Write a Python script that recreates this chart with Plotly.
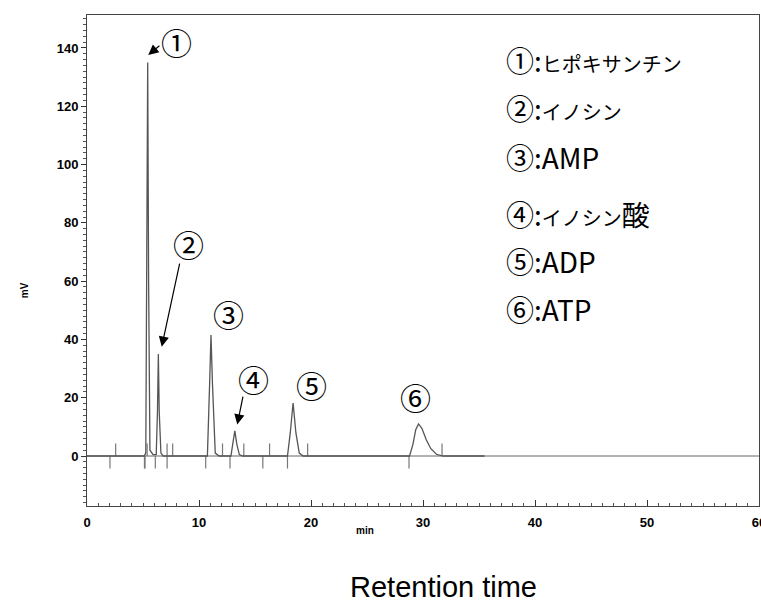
import plotly.graph_objects as go

# ---- data ----
trace_min = [0.0, 5.1, 5.25, 5.35, 5.42, 5.5, 5.62, 5.9, 6.18, 6.29, 6.37, 6.45, 6.6, 6.8,
             10.75, 10.95, 11.07, 11.2, 11.45, 11.8,
             12.85, 13.05, 13.2, 13.38, 13.6, 13.9,
             17.9, 18.15, 18.4, 18.65, 18.95, 19.3,
             28.8, 29.1, 29.35, 29.6, 29.9, 30.3, 30.7, 31.2, 31.8, 35.5]
trace_mv = [0.0, 0.0, 1.0, 60.0, 135.0, 60.0, 2.0, 0.5, 0.5, 15.0, 35.0, 15.0, 1.0, 0.0,
            0.0, 25.0, 41.5, 25.0, 1.0, 0.0,
            0.0, 5.0, 8.6, 4.0, 0.5, 0.0,
            0.0, 8.0, 18.2, 8.0, 1.0, 0.0,
            0.0, 4.0, 9.0, 11.0, 9.5, 5.5, 2.5, 0.6, 0.0, 0.0]

up_marks = [2.56, 5.37, 7.15, 7.65, 12.1, 14.0, 16.3, 19.7, 31.7]
down_marks = [2.05, 5.13, 5.18, 6.1, 7.15, 10.6, 12.77, 15.7, 17.9, 28.75]
mark_height = 4.3

peak_labels = ["①", "②", "③", "④", "⑤", "⑥"]
compound_names = ["ヒポキサンチン", "イノシン", "AMP", "イノシン酸", "ADP", "ATP"]

x_ticks = [0, 10, 20, 30, 40, 50, 60]
y_ticks = [0, 20, 40, 60, 80, 100, 120, 140]

# ---- layout positions ----
label_x = [8.0, 9.05, 12.6, 14.85, 20.06, 29.3]
label_y = [142.1, 73.0, 49.0, 26.6, 24.4, 20.3]
arrows = [  # (tail_x, tail_y, tip_x, tip_y)
    (6.6, 141.2, 5.47, 137.6),
    (8.3, 66.5, 6.67, 37.5),
    (13.95, 20.9, 13.42, 10.8),
]
legend_x = 37.2
legend_y = [136.0, 119.5, 102.5, 83.2, 67.0, 50.6]

CJK = "Noto Sans CJK JP"
line_col = "#555555"

fig = go.Figure()

# zero line across the whole window
fig.add_trace(go.Scatter(x=[0, 60], y=[0, 0], mode="lines",
                         line=dict(color="#666666", width=1), hoverinfo="skip", showlegend=False))

# integration markers
mx, my = [], []
for t in up_marks:
    mx += [t, t, None]
    my += [0, mark_height, None]
for t in down_marks:
    mx += [t, t, None]
    my += [0, -mark_height, None]
fig.add_trace(go.Scatter(x=mx, y=my, mode="lines",
                         line=dict(color="#777777", width=1.2), hoverinfo="skip", showlegend=False))

# chromatogram
fig.add_trace(go.Scatter(x=trace_min, y=trace_mv, mode="lines",
                         line=dict(color=line_col, width=1.3), showlegend=False))

ann = []
for lab, lx, ly in zip(peak_labels, label_x, label_y):
    ann.append(dict(x=lx, y=ly, xref="x", yref="y", text=lab, showarrow=False,
                    font=dict(family=CJK, size=31, color="black"),
                    xanchor="center", yanchor="middle"))
for tx, ty, hx, hy in arrows:
    ann.append(dict(x=hx, y=hy, xref="x", yref="y", ax=tx, ay=ty, axref="x", ayref="y",
                    text="", showarrow=True, arrowhead=2, arrowsize=1.7, arrowwidth=1.2,
                    arrowcolor="black", standoff=0, startstandoff=0))
for lab, name, ly in zip(peak_labels, compound_names, legend_y):
    if name.isascii():
        txt = f"{lab}:{name}"
    elif name.endswith("酸"):
        txt = f"{lab}:<span style='font-size:20px'>{name[:-1]}</span>酸"
    else:
        txt = f"{lab}:<span style='font-size:20px'>{name}</span>"
    ann.append(dict(x=legend_x, y=ly, xref="x", yref="y", text=txt, showarrow=False,
                    font=dict(family=CJK, size=28, color="black"),
                    xanchor="left", yanchor="middle"))

ann.append(dict(x=-0.092, y=0.44, xref="paper", yref="paper", text="mV", textangle=-90,
                showarrow=False, font=dict(family="Liberation Sans", size=10, color="black", weight="bold"),
                xanchor="center", yanchor="middle"))
ann.append(dict(x=0.4137, y=-0.049, xref="paper", yref="paper", text="min",
                showarrow=False, font=dict(family="Liberation Sans", size=10, color="black", weight="bold"),
                xanchor="center", yanchor="middle"))
ann.append(dict(x=0.53, y=-0.165, xref="paper", yref="paper", text="Retention time",
                showarrow=False, font=dict(family="Liberation Sans", size=29, color="black"),
                xanchor="center", yanchor="middle"))

fig.update_layout(
    width=761, height=602,
    margin=dict(l=87, r=2, t=15, b=96, autoexpand=False),
    paper_bgcolor="white", plot_bgcolor="white",
    showlegend=False,
    annotations=ann,
    xaxis=dict(range=[0, 60], tickvals=x_ticks, ticks="inside", ticklen=6, tickwidth=1,
               tickcolor="#333", showline=True, linecolor="#444", linewidth=1, mirror=True,
               showgrid=False, zeroline=False, automargin=False, ticklabelstandoff=4,
               ticklabeloverflow="allow",
               tickfont=dict(family="Liberation Sans", size=13, color="black", weight="bold"),
               minor=dict(dtick=1, ticks="inside", ticklen=3, tickcolor="#555", showgrid=False)),
    yaxis=dict(range=[-17.15, 151.3], tickvals=y_ticks, ticks="outside", ticklen=5, tickwidth=1,
               tickcolor="#333", showline=True, linecolor="#444", linewidth=1, mirror=True,
               showgrid=False, zeroline=False, automargin=False,
               tickfont=dict(family="Liberation Sans", size=13, color="black", weight="bold"),
               minor=dict(dtick=2, ticks="outside", ticklen=3, tickcolor="#555", showgrid=False)),
)

fig.write_html("out.html", config={"displayModeBar": False},
               post_script="document.body.style.margin='0px';document.body.style.overflow='hidden';")
